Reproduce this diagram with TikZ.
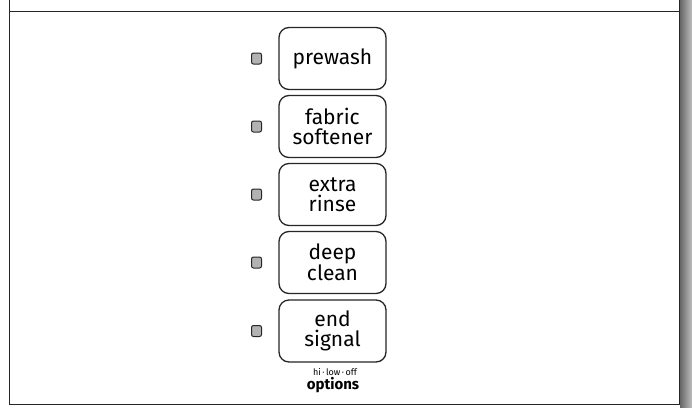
\documentclass[tikz,border=0pt]{standalone}
\usepackage{fontspec}
\setmainfont{Fira Sans}
\begin{document}
\begin{tikzpicture}[x=1pt,y=-1pt,
  btn/.style={draw=black!85,line width=1.3pt,rounded corners=10pt,minimum width=107pt,minimum height=62pt,align=center,font=\fontsize{21}{20}\selectfont,inner sep=0pt},
  led/.style={draw=black!85,fill=black!30,line width=1pt,rounded corners=2pt,minimum width=10pt,minimum height=11pt,inner sep=0pt},
  frame/.style={draw=black!85,line width=1.8pt}]
\useasboundingbox (0,0) rectangle (692,407);
\fill[white] (0,0) rectangle (692,407);
% shadow on the right
\shade[left color=black!60,right color=black!25] (680,0) rectangle (692,407);
% frame
\draw[frame] (9.5,0) -- (9.5,404.5) -- (679.5,404.5) -- (679.5,0);
\draw[frame] (9.5,11.5) -- (679.5,11.5);
% buttons
\foreach \n/\t/\y in {a/prewash/58.5, b/fabric\\softener/126.5, c/extra\\rinse/194.5, d/deep\\clean/262.5, e/end\\signal/331} {
  \node[btn] (b\n) at (332.5,\y) {\t};
  \node[led] (l\n) at (256.5,\y) {};
}
\node[font=\fontsize{9}{10}\selectfont,inner sep=0pt] (hl) at (335,372) {hi\,·\,low\,·\,off};
\node[font=\bfseries\fontsize{15}{16}\selectfont,inner sep=0pt] (opt) at (333,385) {options};
\end{tikzpicture}
\end{document}
